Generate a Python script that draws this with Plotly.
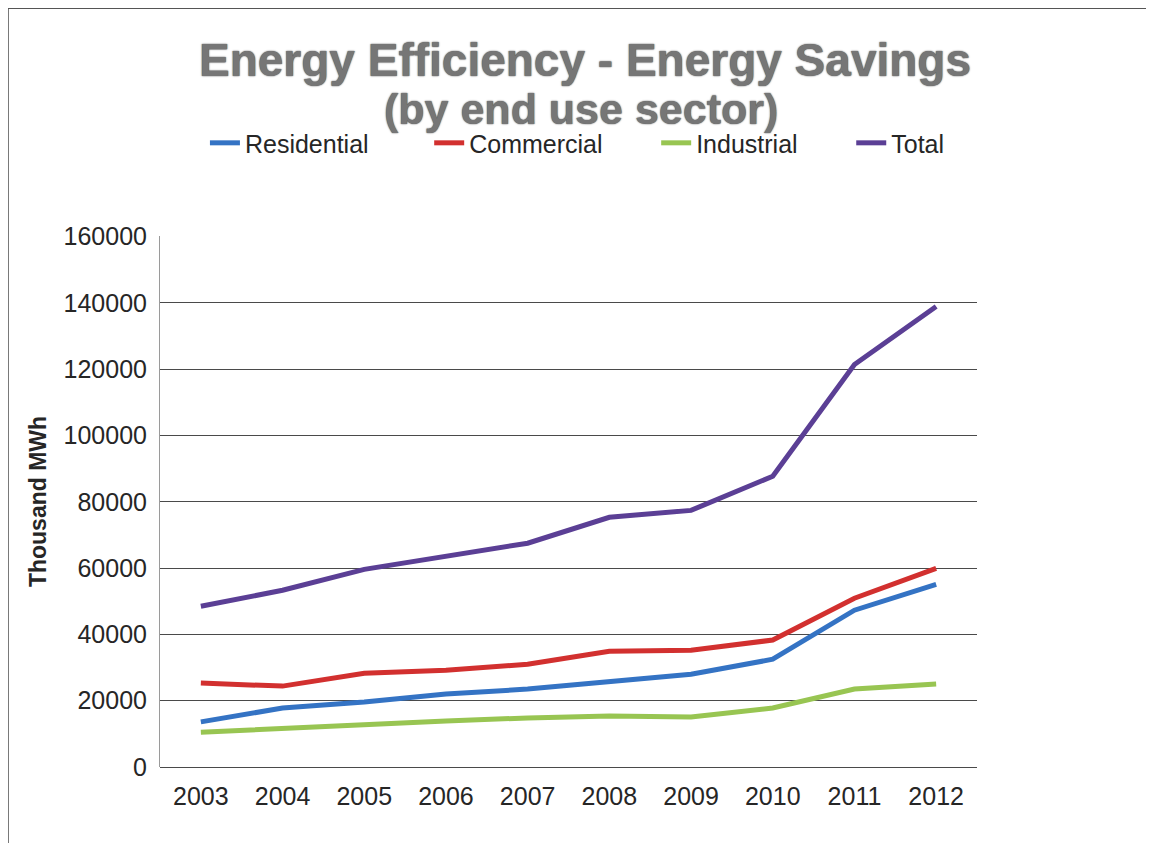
import plotly.graph_objects as go

# data (thousand MWh)
years = ["2003", "2004", "2005", "2006", "2007", "2008", "2009", "2010", "2011", "2012"]
residential = [13600, 17800, 19600, 22000, 23500, 25900, 28000, 32500, 47300, 55100]
commercial = [25300, 24400, 28300, 29200, 31000, 34900, 35200, 38300, 50900, 59900]
industrial = [10500, 11700, 12700, 13900, 14800, 15400, 15100, 17800, 23500, 25000]
total = [48500, 53300, 59600, 63600, 67500, 75300, 77400, 87700, 121400, 138900]
y_ticks = [0, 20000, 40000, 60000, 80000, 100000, 120000, 140000, 160000]

# legend gaps in the original are uneven, pad names with nbsp to mimic it
NB = "\u00a0"
series = [
    ("Residential" + NB * 8, residential, "#3473c4"),
    ("Commercial" + NB * 7, commercial, "#d2302f"),
    ("Industrial" + NB * 7, industrial, "#98c552"),
    ("Total", total, "#5b3f95"),
]

fnt = "Liberation Sans, Arial, sans-serif"
title_font = dict(family=fnt, size=46, color="#767676", weight="bold",
                  shadow="0px 0px 1.5px #222")

fig = go.Figure()
for name, vals, col in series:
    fig.add_trace(go.Scatter(x=years, y=vals, name=name, mode="lines",
                             line=dict(color=col, width=5)))

fig.update_layout(
    width=1154, height=843,
    margin=dict(l=152, r=185, t=228, b=84),
    paper_bgcolor="white", plot_bgcolor="white",
    font=dict(family=fnt, size=25, color="#262626"),
    title=dict(
        text="Energy Efficiency - Energy Savings",
        x=0.5, xref="container", xanchor="center",
        y=1 - 52 / 843, yref="container", yanchor="middle",
        font=title_font,
    ),
    legend=dict(orientation="h", x=0.055, xanchor="left", y=1.175, yanchor="middle",
                font=dict(size=25, color="#262626"),
                bgcolor="rgba(0,0,0,0)"),
    showlegend=True,
)

# second title line, set tighter than a plotly line break would
fig.add_annotation(text="(by end use sector)", xref="paper", yref="paper",
                   x=0.515, y=(759 - 101) / 531, xanchor="center", yanchor="middle",
                   showarrow=False, font={**title_font, "size": 43})

fig.update_xaxes(type="category", showgrid=False, showline=False, ticks="",
                 tickfont=dict(size=25), range=[-0.5, 9.5], ticklabelstandoff=12)
fig.update_yaxes(range=[0, 160150], tickvals=y_ticks, tickformat="d",
                 showgrid=True, gridcolor="#4a4a4a", gridwidth=1,
                 zeroline=True, zerolinecolor="#4a4a4a", zerolinewidth=1,
                 showline=True, linecolor="#9a9a9a", linewidth=1,
                 ticks="", ticklabelstandoff=7, tickfont=dict(size=25),
                 title=dict(text="<b>Thousand MWh</b>", font=dict(size=23), standoff=10))

# outer frame: only the left and top edges fall inside the picture
fig.add_shape(type="rect", xref="paper", yref="paper",
              x0=-0.186, x1=1.234, y0=-0.171, y1=1.429,
              line=dict(color="#555555", width=1.5), layer="below")

fig.write_html("out.html")
